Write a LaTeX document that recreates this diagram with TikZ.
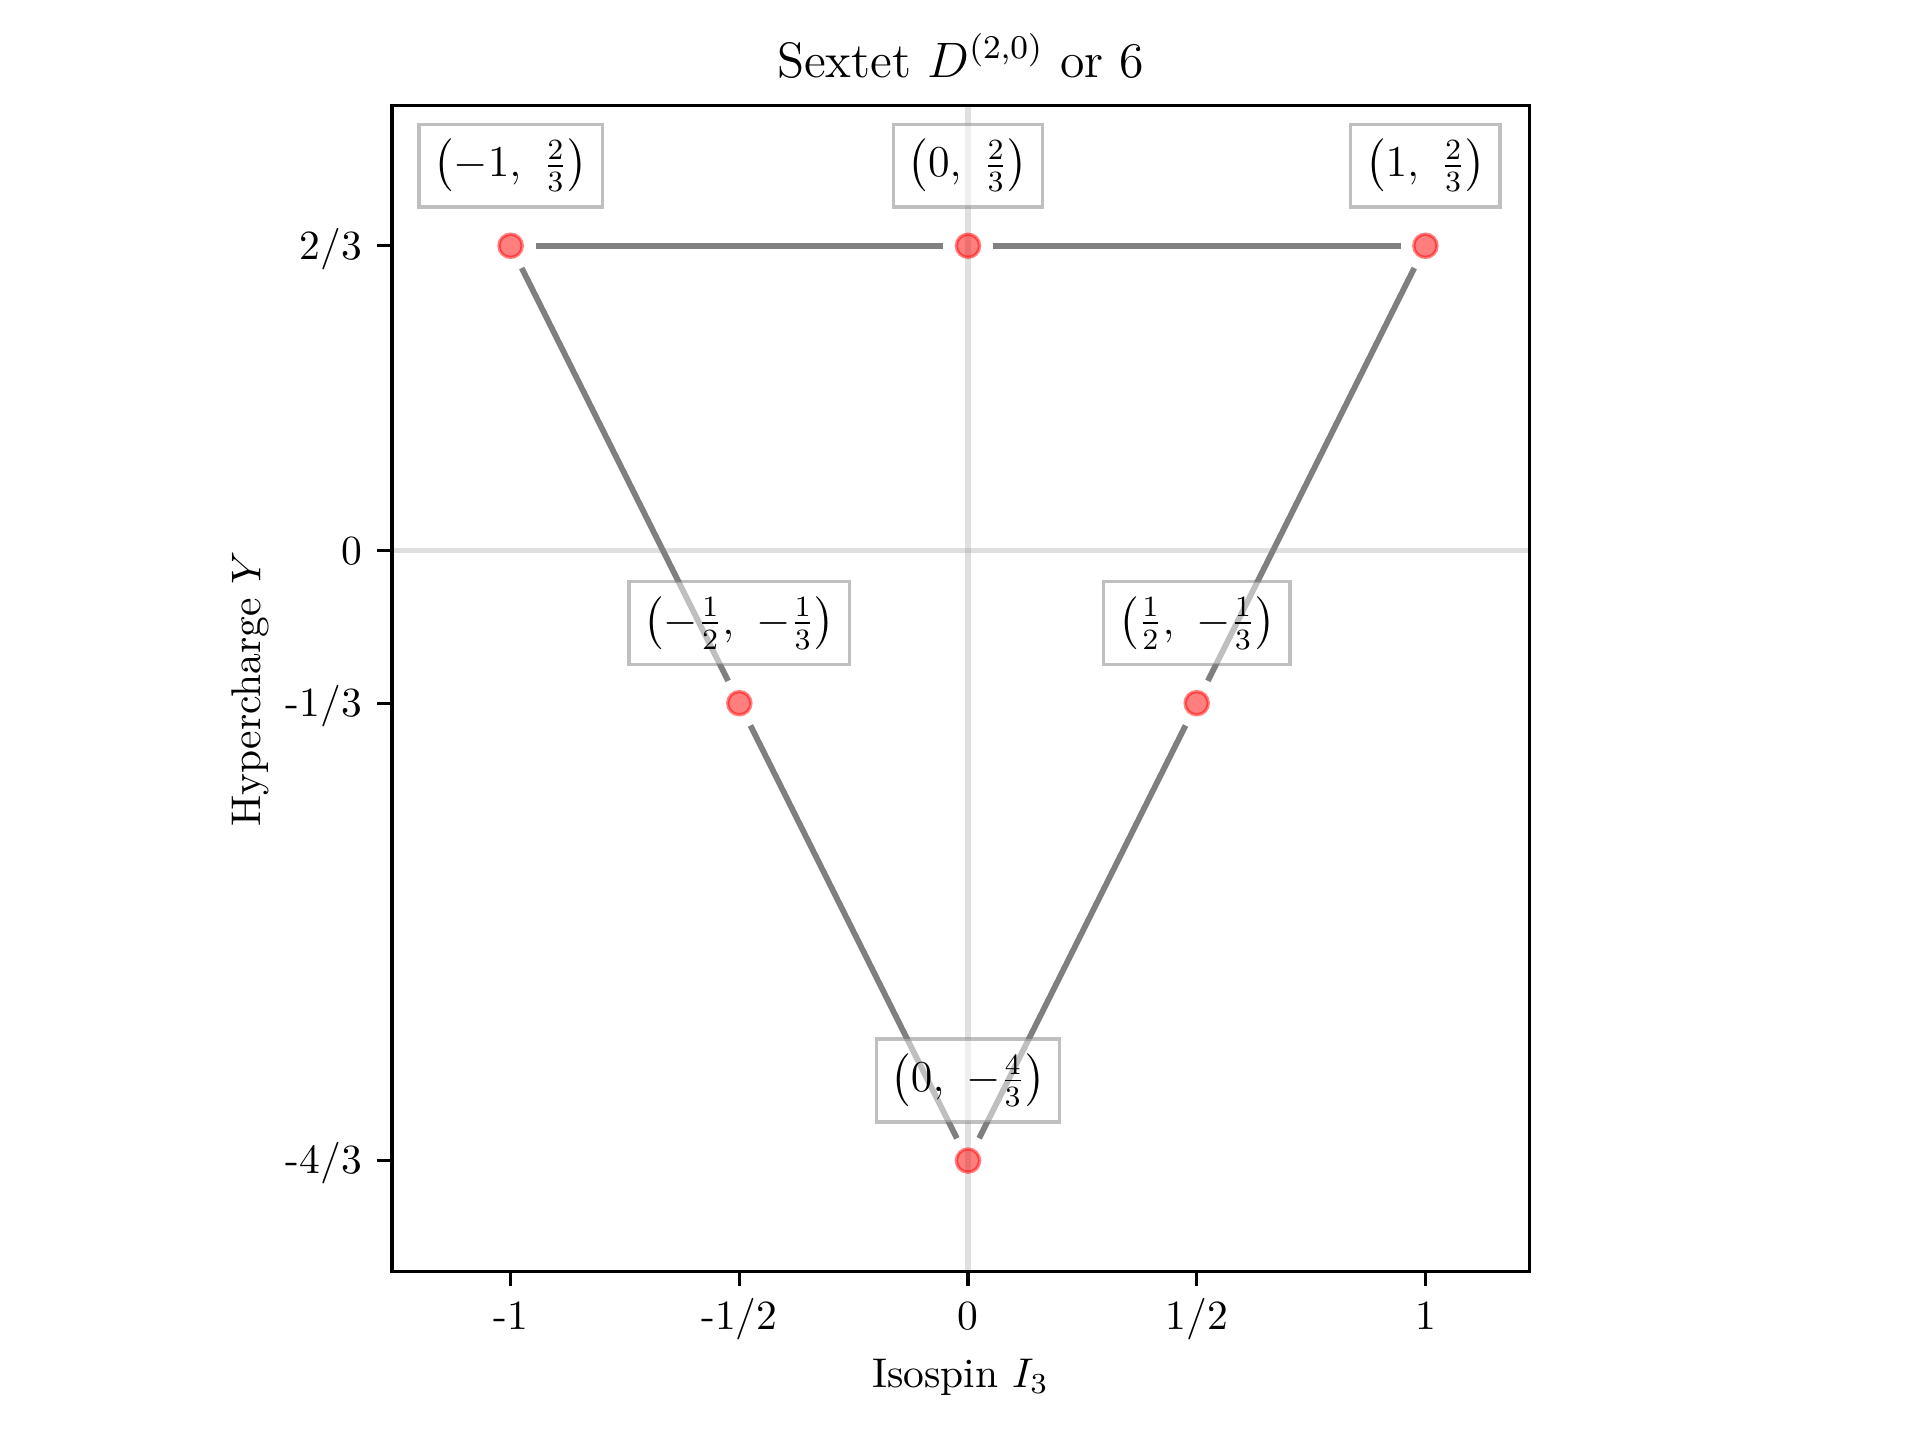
\documentclass[tikz,border=0pt]{standalone}
\usepackage{amsmath}
\usepackage{graphicx}
\newcommand{\wlab}[1]{\scalebox{0.885}{$#1$}}

\begin{document}
\begin{tikzpicture}[x=3.8727cm, y=3.8727cm,
    wpoint/.style={circle, draw=red, fill=red, draw opacity=0.5, fill opacity=0.5, line width=0.8pt, minimum size=5.6pt, inner sep=0pt, outer sep=3.2pt},
    edgeline/.style={color=gray, line width=1.4pt},
    tag/.style={draw=gray, fill=white, draw opacity=0.5, fill opacity=0.5, text opacity=1, line width=0.8pt, inner xsep=3.5pt, inner ysep=3.6pt, yshift=19.3pt, font=\fontsize{12}{14}\selectfont},
    gridline/.style={draw=gray, draw opacity=0.25, line width=1.3pt},
    axframe/.style={draw=black, line width=0.8pt},
    tickmark/.style={draw=black, line width=0.8pt},
    ticklabel/.style={inner sep=0pt}]
    \useasboundingbox (-2.1163,-1.9442) rectangle (2.0813,1.2040);

    \coordinate (axSW) at (-1.2593,-1.5754);
    \coordinate (axNE) at (1.2272,0.9729);
    \coordinate (O) at (0,0);

    \draw[gridline] (O |- axSW) -- (O |- axNE);
    \draw[gridline] (axSW |- O) -- (axNE |- O);

    \node[wpoint] (UL) at (-1,2/3) {};
    \node[wpoint] (UC) at (0,2/3) {};
    \node[wpoint] (UR) at (1,2/3) {};
    \node[wpoint] (ML) at (-1/2,-1/3) {};
    \node[wpoint] (MR) at (1/2,-1/3) {};
    \node[wpoint] (BC) at (0,-4/3) {};

    \path[edgeline] (UL) edge (UC);
    \path[edgeline] (UC) edge (UR);
    \path[edgeline] (UL) edge (ML);
    \path[edgeline] (ML) edge (BC);
    \path[edgeline] (UR) edge (MR);
    \path[edgeline] (MR) edge (BC);

    \node[tag] (tUL) at (UL) {\wlab{\left(-1,\ \frac{2}{3}\right)}};
    \node[tag] (tUC) at (UC) {\wlab{\left(0,\ \frac{2}{3}\right)}};
    \node[tag] (tUR) at (UR) {\wlab{\left(1,\ \frac{2}{3}\right)}};
    \node[tag] (tML) at (ML) {\wlab{\left(-\frac{1}{2},\ -\frac{1}{3}\right)}};
    \node[tag] (tMR) at (MR) {\wlab{\left(\frac{1}{2},\ -\frac{1}{3}\right)}};
    \node[tag] (tBC) at (BC) {\wlab{\left(0,\ -\frac{4}{3}\right)}};

    \draw[axframe] (axSW) rectangle (axNE);

    \foreach \xv/\xl [count=\i] in {-1/{-1}, -0.5/{-1/2}, 0/{0}, 0.5/{1/2}, 1/{1}} {
        \draw[tickmark] (\xv,-1.5754) -- ++(0,-3.5pt);
        \node[ticklabel, anchor=base] (xtick\i) at (\xv,-1.7016) {\xl};
    }
    \foreach \yv/\yl [count=\i] in {0.6667/{2/3}, 0/{0}, -0.3333/{-1/3}, -1.3333/{-4/3}} {
        \draw[tickmark] (-1.2593,\yv) -- ++(-3.5pt,0);
        \node[ticklabel, anchor=east, text height=6.44pt, text depth=0pt] (ytick\i) at (-1.3231,\yv) {\yl};
    }

    \node[anchor=base, font=\fontsize{12}{14}\selectfont] (title) at (-0.0161,1.0356) {Sextet $D^{(2,0)}$ or 6};
    \node[anchor=base] (xlab) at (-0.0161,-1.8284) {Isospin $I_3$};
    \node[anchor=base, rotate=90] (ylab) at (-1.5468,-0.3013) {Hypercharge $Y$};
\end{tikzpicture}
\end{document}
